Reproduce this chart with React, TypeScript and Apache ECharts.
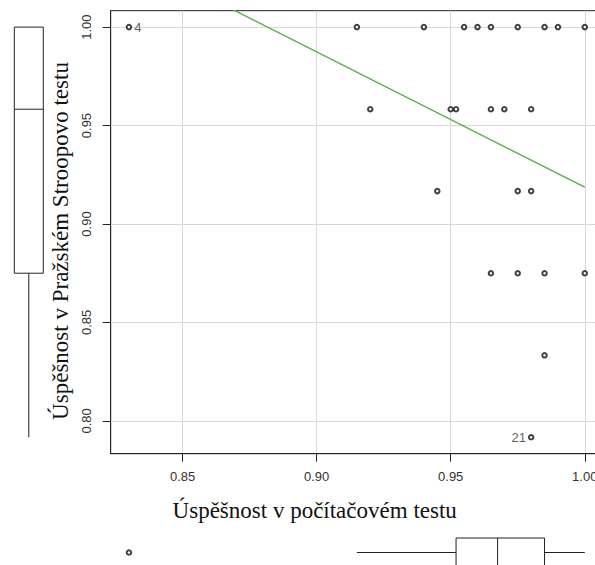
import React, { useEffect, useRef } from "react";
import * as echarts from "echarts";

// Scatter data: computer test success (x) vs. Prague Stroop test success (y)
const xValues = [
  0.83, 0.915, 0.94, 0.955, 0.96, 0.965, 0.975, 0.985, 0.99, 1.0,
  0.92, 0.95, 0.952, 0.965, 0.97, 0.98,
  0.945, 0.975, 0.98,
  0.965, 0.975, 0.985, 1.0,
  0.985,
  0.98,
];
const yValues = [
  1.0, 1.0, 1.0, 1.0, 1.0, 1.0, 1.0, 1.0, 1.0, 1.0,
  0.9583, 0.9583, 0.9583, 0.9583, 0.9583, 0.9583,
  0.9167, 0.9167, 0.9167,
  0.875, 0.875, 0.875, 0.875,
  0.8333,
  0.7917,
];
// identified points (index -> label)
const pointIds = ["4", "", "", "", "", "", "", "", "", "", "", "", "", "", "", "", "", "", "", "", "", "", "", "", "21"];

const xTicks = [0.85, 0.9, 0.95, 1.0];
const yTicks = [0.8, 0.85, 0.9, 0.95, 1.0];
const xRange = [0.8232, 1.0068];
const yRange = [0.78333, 1.00833];

// least-squares line
const regLineX = [0.83, 1.0];
const regLineY = [1.0355, 0.9187];

// marginal boxplots: [min, Q1, median, Q3, max]
const xBoxStats = [0.915, 0.952, 0.9675, 0.985, 1.0];
const xBoxOutliers = [0.83];
const yBoxStats = [0.7917, 0.875, 0.9583, 1.0, 1.0];

const TICK_FONT = "'Liberation Sans', Arial, sans-serif";
const TITLE_FONT = "'Liberation Serif', 'Times New Roman', serif";
const INK = "#222";

export default function App() {
  const ref = useRef<HTMLDivElement>(null);

  useEffect(() => {
    if (!ref.current) return;
    const chart = echarts.init(ref.current, null, { renderer: "svg" });

    const PL = 110.7, PT = 10.7, PW = 492.3, PH = 443;
    const BOX_HALF = 14.5;

    const scatterData = xValues.map((x, i) => {
      const id = pointIds[i];
      const item: any = { value: [x, yValues[i]] };
      if (id) {
        item.label = {
          show: true,
          formatter: id,
          position: x < 0.9 ? "right" : "left",
          distance: 2,
          color: "#333",
          fontFamily: TICK_FONT,
          fontSize: 13,
        };
      }
      return item;
    });

    const pointStyle = { color: "#111", borderColor: "#111", borderWidth: 0.9 };

    const option: any = {
      animation: false,
      backgroundColor: "#fff",
      grid: [
        { left: PL, top: PT, width: PW, height: PH, show: true, borderColor: INK, borderWidth: 1, backgroundColor: "transparent" },
        { left: 0, top: PT, width: 57.6, height: PH },
        { left: PL, top: 530, width: PW, height: 45 },
      ],
      xAxis: [
        {
          gridIndex: 0,
          type: "value",
          min: xRange[0],
          max: xRange[1],
          minInterval: 0.05,
          maxInterval: 0.05,
          axisLine: { show: true, lineStyle: { color: INK, width: 1 } },
          axisTick: { show: true, customValues: xTicks, length: 8, inside: false, lineStyle: { color: INK } },
          axisLabel: {
            show: true,
            customValues: xTicks,
            formatter: (v: number) => v.toFixed(2),
            color: "#333",
            fontFamily: TICK_FONT,
            fontSize: 13,
            margin: 16,
            showMinLabel: true,
            showMaxLabel: true,
          },
          splitLine: { show: true, lineStyle: { color: "#d9d9d9", width: 1 } },
        },
        { gridIndex: 1, type: "value", min: 0, max: 1, show: false },
        { gridIndex: 2, type: "value", min: xRange[0], max: xRange[1], show: false },
      ],
      yAxis: [
        {
          gridIndex: 0,
          type: "value",
          min: yRange[0],
          max: yRange[1],
          minInterval: 0.05,
          maxInterval: 0.05,
          axisLine: { show: true, lineStyle: { color: INK, width: 1 } },
          axisTick: { show: true, customValues: yTicks, length: 8, inside: false, lineStyle: { color: INK } },
          axisLabel: {
            show: true,
            customValues: yTicks,
            rotate: 90,
            formatter: (v: number) => v.toFixed(2),
            color: "#333",
            fontFamily: TICK_FONT,
            fontSize: 13,
            margin: 18,
          },
          splitLine: { show: true, lineStyle: { color: "#d9d9d9", width: 1 } },
        },
        { gridIndex: 1, type: "value", min: yRange[0], max: yRange[1], show: false },
        { gridIndex: 2, type: "value", min: 0, max: 1, show: false },
      ],
      series: [
        {
          type: "line",
          xAxisIndex: 0,
          yAxisIndex: 0,
          data: regLineX.map((x, i) => [x, regLineY[i]]),
          showSymbol: false,
          symbol: "none",
          clip: true,
          lineStyle: { color: "#55ad48", width: 1.4 },
          z: 3,
        },
        {
          type: "scatter",
          xAxisIndex: 0,
          yAxisIndex: 0,
          data: scatterData,
          symbol: "emptyCircle",
          symbolSize: 4.5,
          itemStyle: pointStyle,
          z: 4,
        },
        {
          type: "custom",
          xAxisIndex: 1,
          yAxisIndex: 1,
          data: [[0.5]],
          renderItem: (params: any, api: any) => {
            const [mn, q1, md, q3, mx] = yBoxStats;
            const cx = api.coord([0.5, md])[0];
            const y = (v: number) => api.coord([0.5, v])[1];
            const st = { stroke: INK, lineWidth: 1, fill: "none" };
            return {
              type: "group",
              children: [
                { type: "rect", shape: { x: cx - BOX_HALF, y: y(q3), width: BOX_HALF * 2, height: y(q1) - y(q3) }, style: st },
                { type: "line", shape: { x1: cx - BOX_HALF, y1: y(md), x2: cx + BOX_HALF, y2: y(md) }, style: st },
                { type: "line", shape: { x1: cx, y1: y(q1), x2: cx, y2: y(mn) }, style: st },
                { type: "line", shape: { x1: cx, y1: y(q3), x2: cx, y2: y(mx) }, style: st },
              ],
            };
          },
        },
        {
          type: "custom",
          xAxisIndex: 2,
          yAxisIndex: 2,
          data: [[0.5]],
          renderItem: (params: any, api: any) => {
            const [mn, q1, md, q3, mx] = xBoxStats;
            const cy = api.coord([md, 0.5])[1];
            const x = (v: number) => api.coord([v, 0.5])[0];
            const st = { stroke: INK, lineWidth: 1, fill: "none" };
            return {
              type: "group",
              children: [
                { type: "rect", shape: { x: x(q1), y: cy - BOX_HALF, width: x(q3) - x(q1), height: BOX_HALF * 2 }, style: st },
                { type: "line", shape: { x1: x(md), y1: cy - BOX_HALF, x2: x(md), y2: cy + BOX_HALF }, style: st },
                { type: "line", shape: { x1: x(mn), y1: cy, x2: x(q1), y2: cy }, style: st },
                { type: "line", shape: { x1: x(q3), y1: cy, x2: x(mx), y2: cy }, style: st },
              ],
            };
          },
        },
        {
          type: "scatter",
          xAxisIndex: 2,
          yAxisIndex: 2,
          data: xBoxOutliers.map((v) => [v, 0.5]),
          symbol: "emptyCircle",
          symbolSize: 4.5,
          itemStyle: pointStyle,
        },
      ],
      graphic: [
        {
          type: "text",
          x: 314.7,
          y: 510,
          style: {
            text: "Úspěšnost v počítačovém testu",
            fontFamily: TITLE_FONT,
            fontSize: 23,
            fill: "#111",
            align: "center",
            verticalAlign: "middle",
          },
        },
        {
          type: "text",
          x: 60,
          y: 241,
          rotation: Math.PI / 2,
          style: {
            text: "Úspěšnost v Pražském Stroopovo testu",
            fontFamily: TITLE_FONT,
            fontSize: 23,
            fill: "#111",
            align: "center",
            verticalAlign: "middle",
          },
        },
      ],
    };

    chart.setOption(option);
    return () => chart.dispose();
  }, []);

  return (
    <div style={{ position: "fixed", left: 0, top: 0, width: 595, height: 565, overflow: "hidden", background: "#fff" }}>
      <div ref={ref} style={{ width: 620, height: 580 }} />
    </div>
  );
}
